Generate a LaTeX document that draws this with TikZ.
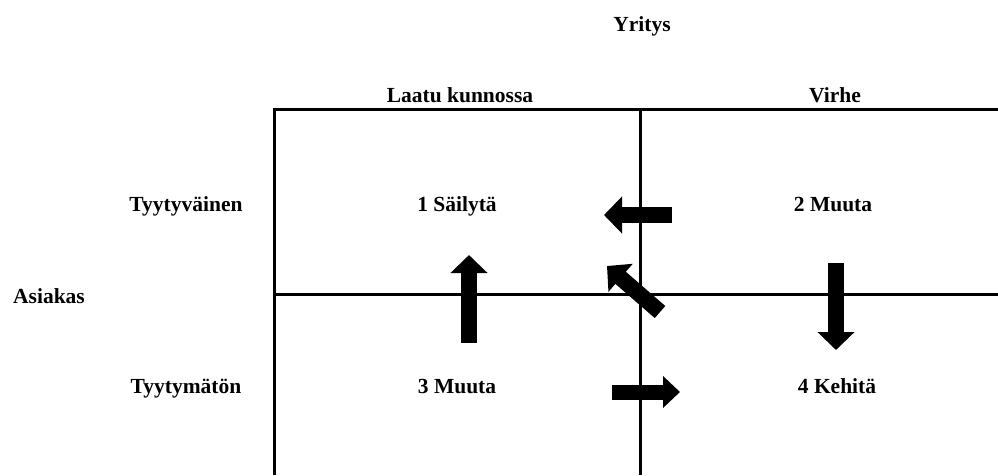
\documentclass[tikz,border=0pt]{standalone}
\usepackage{fontspec}
\setmainfont{Liberation Serif}
\usetikzlibrary{arrows.meta}
\begin{document}
\begin{tikzpicture}[x=1pt,y=-1pt,
  grid/.style={line width=3pt},
  lbl/.style={anchor=base,inner sep=0pt,font=\fontsize{21.5}{25}\selectfont\bfseries},
  bigarrow/.style={line width=16pt,-{Triangle[length=18pt,width=36pt]}}]
\useasboundingbox (0,0) rectangle (998,475);

% quadrant grid
\draw[grid] (274,475) -- (274,109) -- (998,109);
\draw[grid] (640,109) -- (640,475);
\draw[grid] (274,294) -- (998,294);

% axis titles and headings
\node[lbl] (yritys) at (642,31) {Yritys};
\node[lbl] (laatu) at (460,102) {Laatu kunnossa};
\node[lbl] (virhe) at (835,102) {Virhe};
\node[lbl] (asiakas) at (49,303) {Asiakas};
\node[lbl] (tyyt) at (186,211) {Tyytyväinen};
\node[lbl] (tyytm) at (186,393) {Tyytymätön};

% quadrant labels
\node[lbl] (q1) at (457,211) {1 Säilytä};
\node[lbl] (q2) at (833,211) {2 Muuta};
\node[lbl] (q3) at (457,393) {3 Muuta};
\node[lbl] (q4) at (837,393) {4 Kehitä};

% block arrows between quadrants
\coordinate (a1s) at (672,215); \coordinate (a1e) at (604,215);
\coordinate (a2s) at (660,312); \coordinate (a2e) at (607,266);
\coordinate (a3s) at (469,343); \coordinate (a3e) at (469,255);
\coordinate (a4s) at (836,263); \coordinate (a4e) at (836,350);
\coordinate (a5s) at (612,392); \coordinate (a5e) at (680,392);
\draw[bigarrow] (a1s) -- (a1e);
\draw[bigarrow] (a2s) -- (a2e);
\draw[bigarrow] (a3s) -- (a3e);
\draw[bigarrow] (a4s) -- (a4e);
\draw[bigarrow,line width=15pt,-{Triangle[length=17pt,width=31pt]}] (a5s) -- (a5e);
\end{tikzpicture}
\end{document}
